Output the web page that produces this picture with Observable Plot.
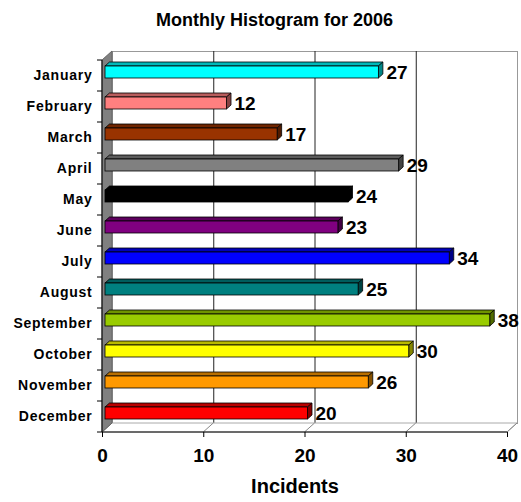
<!DOCTYPE html>
<html><head><meta charset="utf-8">
<script src="https://cdn.jsdelivr.net/npm/d3@7"></script>
<script src="https://cdn.jsdelivr.net/npm/@observablehq/plot@0.6"></script>
<style>
html,body{margin:0;padding:0;background:#fff;overflow:hidden;font-family:"Liberation Sans",Arial,sans-serif;}
#title{width:521px;height:40px;box-sizing:border-box;padding-top:11px;padding-left:28px;text-align:center;font-weight:bold;font-size:18px;line-height:18px;color:#000;}
#chart{width:521px;height:462px;}
#chart svg{display:block;max-width:none !important;}
#chart svg g[aria-label="y-axis tick label"] text{letter-spacing:0.75px;}
</style></head><body>
<div id="title">Monthly Histogram for 2006</div>
<div id="chart"></div>
<script>
const months = ["January","February","March","April","May","June","July","August","September","October","November","December"];
const incidents = [27,12,17,29,24,23,34,25,38,30,26,20];
const colors = ["#00FFFF","#FF8080","#993300","#808080","#000000","#800080","#0000FF","#008080","#99CC00","#FFFF00","#FF9900","#FF0000"];
const xTicks = [0,10,20,30,40];
const gridTicks = [10,20,30];
const xLabel = "Incidents";

const data = months.map((m,i)=>({month:m, value:incidents[i], color:colors[i]}));

// 3D styling (pixel offsets)
const WDX = 10, WDY = -9;      // wall depth
const BAR_DX = 3;              // bar front-face shift
const BAR_TOP = 6, BAR_H = 12; // bar position inside band
const FDX = 4.5, FDY = -4;     // bar depth
const YTICK = 5;

function walls(index, scales, values, dims) {
  const {width, height, marginLeft, marginRight, marginTop, marginBottom} = dims;
  const L = marginLeft, R = width - marginRight, T = marginTop, B = height - marginBottom;
  const g = d3.create("svg:g");
  g.append("path").attr("d", `M${L},${B}L${R},${B}L${R+WDX},${B+WDY}L${L+WDX},${B+WDY}Z`)
    .attr("fill","#fff").attr("stroke","#aaa");
  for (const t of xTicks) {
    const px = scales.x(t);
    g.append("line").attr("x1",px).attr("y1",B).attr("x2",px+WDX).attr("y2",B+WDY).attr("stroke","#888");
  }
  g.append("path").attr("d", `M${L},${B}L${L},${T}L${L+WDX},${T+WDY}L${L+WDX},${B+WDY}Z`)
    .attr("fill","#808080").attr("stroke","#666");
  g.append("line").attr("x1",L).attr("y1",B).attr("x2",R).attr("y2",B).attr("stroke","#000");
  g.append("line").attr("x1",L).attr("y1",T).attr("x2",L).attr("y2",B).attr("stroke","#000");
  // category boundary ticks
  const bounds = months.map(m => scales.y(m)).concat([scales.y(months[months.length-1]) + scales.y.bandwidth()]);
  for (const yy of bounds) {
    g.append("line").attr("x1",L-YTICK).attr("y1",yy).attr("x2",L).attr("y2",yy).attr("stroke","#000");
  }
  return g.node();
}

function bars3d(index, scales, values) {
  const g = d3.create("svg:g");
  const X1 = values.x1, X2 = values.x2, Y = values.y;
  for (const i of index) {
    const c = d3.color(data[i].color);
    const xa = X1[i] + BAR_DX, xb = X2[i] + BAR_DX;
    const yt = Y[i] + BAR_TOP, yb = yt + BAR_H;
    g.append("path").attr("d", `M${xa},${yt}L${xb},${yt}L${xb+FDX},${yt+FDY}L${xa+FDX},${yt+FDY}Z`)
      .attr("fill", c.darker(0.9).formatHex()).attr("stroke","#000").attr("stroke-width",0.8).attr("stroke-linejoin","round");
    g.append("path").attr("d", `M${xb},${yt}L${xb+FDX},${yt+FDY}L${xb+FDX},${yb+FDY}L${xb},${yb}Z`)
      .attr("fill", c.darker(1.8).formatHex()).attr("stroke","#000").attr("stroke-width",0.8).attr("stroke-linejoin","round");
    g.append("rect").attr("x", xa).attr("y", yt).attr("width", xb - xa).attr("height", BAR_H)
      .attr("fill", c.formatHex()).attr("stroke","#000").attr("stroke-width",0.8);
  }
  return g.node();
}

const chart = Plot.plot({
  width: 521, height: 462,
  marginTop: 20, marginBottom: 70, marginLeft: 102, marginRight: 14,
  x: {domain: [0, 40]},
  y: {domain: months, padding: 0, round: false},
  style: {fontFamily: '"Liberation Sans", Arial, sans-serif', background: "white", overflow: "visible", color: "#000"},
  marks: [
    Plot.frame({dx: WDX, dy: WDY, fill: "white", stroke: "#999"}),
    Plot.ruleX(gridTicks, {dx: WDX, dy: WDY, stroke: "#222"}),
    Plot.frame({stroke: "none", render: walls}),
    Plot.barX(data, {x: "value", y: "month", render: bars3d}),
    Plot.text(data, {x: "value", y: "month", text: d => String(d.value), dx: BAR_DX + FDX + 3, dy: -3.5,
      textAnchor: "start", fontSize: 19, fontWeight: "bold", fill: "#000"}),
    Plot.axisX(xTicks, {tickSize: 5, tickPadding: 11, fontSize: 19, fontWeight: "bold", label: null}),
    Plot.axisY({tickSize: 0, tickPadding: 10, fontSize: 14, fontWeight: "bold", label: null}),
    Plot.text([xLabel], {text: d => d, frameAnchor: "bottom", dy: 60, dx: -10, fontSize: 20, fontWeight: "bold", fill: "#000"})
  ]
});
document.getElementById("chart").appendChild(chart);
</script>
</body></html>
